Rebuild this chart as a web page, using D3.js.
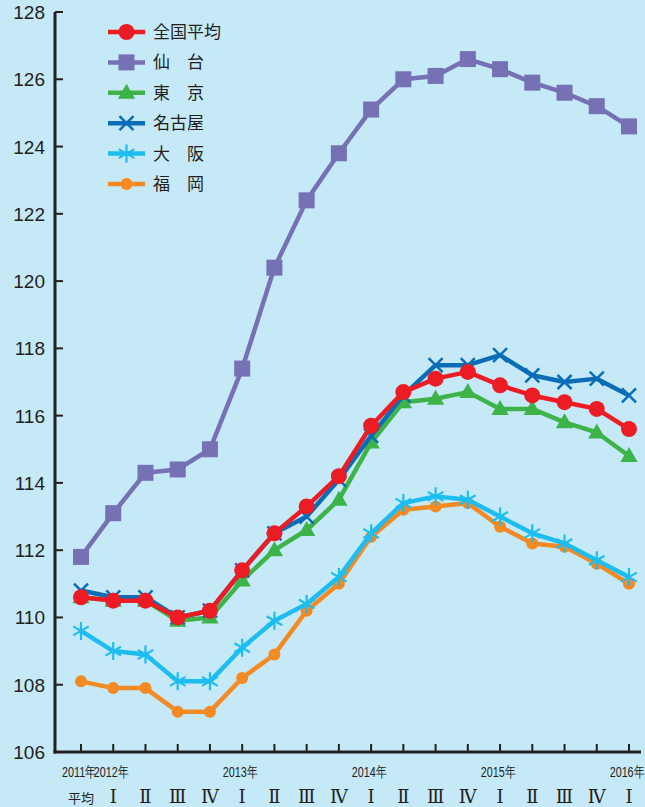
<!DOCTYPE html>
<html>
<head>
<meta charset="utf-8">
<script src="https://cdn.jsdelivr.net/npm/d3@7"></script>
<style>
  body { margin: 0; background: #c6e9f8; }
  svg { display: block; }
</style>
</head>
<body>
<div id="chart"></div>
<script>
// periods: 2011 average, then quarters 2012 I .. 2016 I
var years = ['2011年', '2012年', '', '', '', '2013年', '', '', '', '2014年', '', '', '', '2015年', '', '', '', '2016年']
var quarters = ['平均', 'Ⅰ', 'Ⅱ', 'Ⅲ', 'Ⅳ', 'Ⅰ', 'Ⅱ', 'Ⅲ', 'Ⅳ', 'Ⅰ', 'Ⅱ', 'Ⅲ', 'Ⅳ', 'Ⅰ', 'Ⅱ', 'Ⅲ', 'Ⅳ', 'Ⅰ']
var yTicks = [106, 108, 110, 112, 114, 116, 118, 120, 122, 124, 126, 128]

var national = [110.6, 110.5, 110.5, 110.0, 110.2, 111.4, 112.5, 113.3, 114.2, 115.7, 116.7, 117.1, 117.3, 116.9, 116.6, 116.4, 116.2, 115.6]
var sendai = [111.8, 113.1, 114.3, 114.4, 115.0, 117.4, 120.4, 122.4, 123.8, 125.1, 126.0, 126.1, 126.6, 126.3, 125.9, 125.6, 125.2, 124.6]
var tokyo = [110.6, 110.5, 110.5, 109.9, 110.0, 111.1, 112.0, 112.6, 113.5, 115.2, 116.4, 116.5, 116.7, 116.2, 116.2, 115.8, 115.5, 114.8]
var nagoya = [110.8, 110.6, 110.6, 110.0, 110.2, 111.4, 112.5, 113.0, 114.1, 115.4, 116.6, 117.5, 117.5, 117.8, 117.2, 117.0, 117.1, 116.6]
var osaka = [109.6, 109.0, 108.9, 108.1, 108.1, 109.1, 109.9, 110.4, 111.2, 112.5, 113.4, 113.6, 113.5, 113.0, 112.5, 112.2, 111.7, 111.2]
var fukuoka = [108.1, 107.9, 107.9, 107.2, 107.2, 108.2, 108.9, 110.2, 111.0, 112.4, 113.2, 113.3, 113.4, 112.7, 112.2, 112.1, 111.6, 111.0]

var names = ['全国平均', '仙　台', '東　京', '名古屋', '大　阪', '福　岡']

var series = [
  {name: names[1], data: sendai, color: '#7670b4', marker: 'square'},
  {name: names[5], data: fukuoka, color: '#f38a24', marker: 'dot'},
  {name: names[4], data: osaka, color: '#1dbdf0', marker: 'star'},
  {name: names[2], data: tokyo, color: '#3db34a', marker: 'triangle'},
  {name: names[3], data: nagoya, color: '#0b6db6', marker: 'cross'},
  {name: names[0], data: national, color: '#ec1c24', marker: 'circle'}
]
var legendOrder = [5, 0, 3, 4, 2, 1]

var width = 645, height = 807
var margin = {top: 12, right: 16, bottom: 55, left: 55}

var svg = d3.select('#chart').append('svg')
  .attr('width', width).attr('height', height)

svg.append('rect').attr('width', width).attr('height', height).attr('fill', '#c6e9f8')

var x = d3.scalePoint().domain(d3.range(quarters.length))
  .range([81, 629])
var y = d3.scaleLinear().domain([106, 128]).range([height - margin.bottom, margin.top])

// axes
var axisColor = '#231f20'
svg.append('line').attr('x1', margin.left).attr('x2', margin.left)
  .attr('y1', y(128)).attr('y2', y(106) + 1.5)
  .attr('stroke', axisColor).attr('stroke-width', 3)
svg.append('line').attr('x1', margin.left - 1.5).attr('x2', 641)
  .attr('y1', y(106)).attr('y2', y(106))
  .attr('stroke', axisColor).attr('stroke-width', 3)

svg.selectAll('.ytick').data(yTicks).enter().append('line')
  .attr('x1', margin.left).attr('x2', margin.left + 8)
  .attr('y1', d => y(d)).attr('y2', d => y(d))
  .attr('stroke', axisColor).attr('stroke-width', 2)
svg.selectAll('.ylab').data(yTicks).enter().append('text')
  .attr('x', 45).attr('y', d => y(d) + 7)
  .attr('text-anchor', 'end')
  .style('font', '19px "Liberation Sans", Arial, sans-serif')
  .attr('fill', axisColor)
  .text(d => d)

svg.selectAll('.xtick').data(d3.range(quarters.length)).enter().append('line')
  .attr('x1', d => x(d)).attr('x2', d => x(d))
  .attr('y1', y(106)).attr('y2', y(106) - 8)
  .attr('stroke', axisColor).attr('stroke-width', 2)

svg.selectAll('.year').data(years).enter().append('text')
  .attr('transform', (d, i) => `translate(${Math.min(x(i) - 2, 629)},${777}) scale(0.72,1)`)
  .attr('text-anchor', 'middle')
  .style('font', '15px "Liberation Sans", Arial, sans-serif')
  .attr('fill', axisColor)
  .text(d => d)

svg.selectAll('.quarter').data(quarters).enter().append('text')
  .attr('x', (d, i) => x(i)).attr('y', 803)
  .attr('text-anchor', 'middle')
  .style('font', (d, i) => i === 0 ? '13px "Noto Sans CJK JP", sans-serif' : '18px "Liberation Serif", "DejaVu Serif", serif')
  .attr('fill', axisColor)
  .text(d => d)

// markers
function drawMarker(g, type, color, cx, cy) {
  if (type === 'circle') {
    g.append('circle').attr('cx', cx).attr('cy', cy).attr('r', 8).attr('fill', color)
  } else if (type === 'dot') {
    g.append('circle').attr('cx', cx).attr('cy', cy).attr('r', 6).attr('fill', color)
  } else if (type === 'square') {
    g.append('rect').attr('x', cx - 8).attr('y', cy - 8).attr('width', 16).attr('height', 16).attr('fill', color)
  } else if (type === 'triangle') {
    g.append('path').attr('d', d3.symbol(d3.symbolTriangle, 130)()).attr('transform', `translate(${cx},${cy + 1})`).attr('fill', color)
  } else if (type === 'cross') {
    g.append('path').attr('d', `M${cx - 7},${cy - 7}L${cx + 7},${cy + 7}M${cx - 7},${cy + 7}L${cx + 7},${cy - 7}`)
      .attr('stroke', color).attr('stroke-width', 2.5).attr('fill', 'none')
  } else if (type === 'star') {
    var p = ''
    for (var k = 0; k < 3; k++) {
      var a = Math.PI / 2 + k * Math.PI / 3
      p += `M${cx + 9 * Math.cos(a)},${cy + 9 * Math.sin(a)}L${cx - 9 * Math.cos(a)},${cy - 9 * Math.sin(a)}`
    }
    g.append('path').attr('d', p).attr('stroke', color).attr('stroke-width', 2.2).attr('fill', 'none')
  }
}

var line = d3.line().x((d, i) => x(i)).y(d => y(d))

series.forEach(s => {
  var g = svg.append('g')
  g.append('path').datum(s.data).attr('d', line)
    .attr('fill', 'none').attr('stroke', s.color).attr('stroke-width', 4.5)
    .attr('stroke-linejoin', 'round')
  s.data.forEach((v, i) => drawMarker(g, s.marker, s.color, x(i), y(v)))
})

// legend
var legend = svg.append('g')
legendOrder.forEach((si, r) => {
  var s = series[si]
  var ly = 32 + r * 30.4
  legend.append('line').attr('x1', 108).attr('x2', 145).attr('y1', ly).attr('y2', ly)
    .attr('stroke', s.color).attr('stroke-width', 4.5)
  drawMarker(legend, s.marker, s.color, 126.5, ly)
  legend.append('text').attr('x', 153).attr('y', ly + 6)
    .style('font', '17px "Noto Sans CJK JP", sans-serif')
    .attr('fill', axisColor)
    .text(s.name)
})
</script>
</body>
</html>
